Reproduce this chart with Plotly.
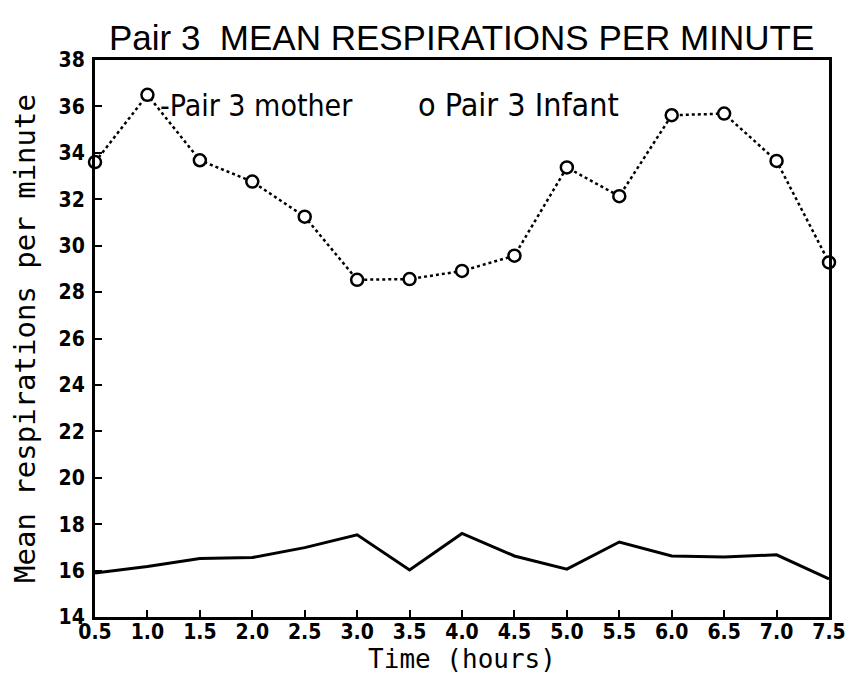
import plotly.graph_objects as go

hours = [0.5, 1.0, 1.5, 2.0, 2.5, 3.0, 3.5, 4.0, 4.5, 5.0, 5.5, 6.0, 6.5, 7.0, 7.5]
mother = [15.9, 16.18, 16.52, 16.56, 16.99, 17.54, 16.03, 17.6, 16.63, 16.06, 17.23, 16.63, 16.58, 16.68, 15.64]
infant = [33.6, 36.5, 33.68, 32.76, 31.25, 28.53, 28.56, 28.91, 29.57, 33.37, 32.13, 35.62, 35.69, 33.65, 29.28]
x_ticks = [0.5, 1.0, 1.5, 2.0, 2.5, 3.0, 3.5, 4.0, 4.5, 5.0, 5.5, 6.0, 6.5, 7.0, 7.5]
x_tick_text = ["0.5", "1.0", "1.5", "2.0", "2.5", "3.0", "3.5", "4.0", "4.5", "5.0", "5.5", "6.0", "6.5", "7.0", "7.5"]
y_ticks = [14, 16, 18, 20, 22, 24, 26, 28, 30, 32, 34, 36, 38]

tick_font = dict(family="DejaVu Sans Condensed, DejaVu Sans, sans-serif", size=21, color="black", weight="bold")
plot_font = "DejaVu Sans Condensed, DejaVu Sans, sans-serif"

fig = go.Figure()
fig.add_trace(go.Scatter(
    x=hours, y=mother, mode="lines", name="Pair 3 mother",
    line=dict(color="black", width=3),
    showlegend=False, cliponaxis=False,
))
fig.add_trace(go.Scatter(
    x=hours, y=infant, mode="lines+markers", name="Pair 3 infant",
    line=dict(color="black", width=2.5, dash="dot"),
    marker=dict(symbol="circle", size=12, color="white", line=dict(color="black", width=2.5)),
    showlegend=False, cliponaxis=False,
))

fig.add_annotation(x=1.10, y=36.05, xref="x", yref="y", text="-Pair 3 mother",
                   showarrow=False, xanchor="left", yanchor="middle",
                   font=dict(family=plot_font, size=30, color="black"))
fig.add_annotation(x=3.56, y=36.05, xref="x", yref="y", text="o Pair 3 Infant",
                   showarrow=False, xanchor="left", yanchor="middle",
                   font=dict(family=plot_font, size=32, color="black"))

fig.update_layout(
    width=851, height=666,
    margin=dict(l=83, r=30, t=52, b=45),
    paper_bgcolor="white", plot_bgcolor="white",
    title=dict(text="Pair 3  MEAN RESPIRATIONS PER MINUTE", x=0.533, xanchor="center",
               y=0.955, yanchor="middle",
               font=dict(family="Liberation Sans, Arial, sans-serif", size=35, color="black")),
    xaxis=dict(
        range=[0.5, 7.5], tickmode="array", tickvals=x_ticks, ticktext=x_tick_text,
        showgrid=False, zeroline=False, showline=True, linecolor="black", linewidth=3,
        mirror=True, ticks="inside", ticklen=7, tickwidth=2, tickcolor="black",
        tickfont=tick_font, ticklabelstandoff=-6,
        title=dict(text="Time (hours)", standoff=0,
                   font=dict(family="DejaVu Sans Mono, monospace", size=26, color="black")),
    ),
    yaxis=dict(
        range=[14, 38], tickmode="array", tickvals=y_ticks,
        showgrid=False, zeroline=False, showline=True, linecolor="black", linewidth=3,
        mirror=True, ticks="inside", ticklen=7, tickwidth=2, tickcolor="black",
        tickfont=tick_font, ticklabelstandoff=3,
        title=dict(text="Mean respirations per minute", standoff=18,
                   font=dict(family="DejaVu Sans Mono, monospace", size=29, color="black")),
    ),
)

fig.write_html("out.html")
